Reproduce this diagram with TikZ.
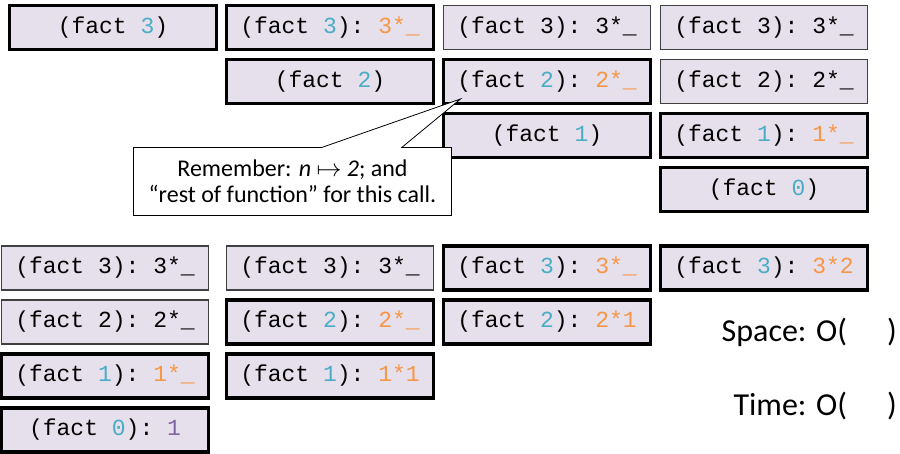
\documentclass[tikz,border=0pt]{standalone}
\usepackage{fontspec}
\setmainfont{Carlito}
\setmonofont{Liberation Mono}
\usetikzlibrary{positioning,shapes.callouts}
\definecolor{framefill}{HTML}{E6E0EC}
\definecolor{argblue}{HTML}{4BACC6}
\definecolor{restorange}{HTML}{F79646}
\definecolor{valpurple}{HTML}{8064A2}
\definecolor{oldgray}{HTML}{404040}
\newcommand{\va}[1]{\textcolor{argblue}{#1}}
\newcommand{\rf}[1]{\textcolor{restorange}{#1}}
\tikzset{
stack/.style={x=1pt,y=-1pt,node distance=10pt},
frame/.style={rectangle,fill=framefill,minimum width=207pt,minimum height=44pt,
inner sep=0pt,outer sep=0pt,font=\fontsize{23}{26}\selectfont\ttfamily},
active/.style={frame,draw=black,line width=3.5pt},
saved/.style={frame,draw=oldgray,line width=1.2pt},
note/.style={rectangle callout,draw,fill=white,line width=0.8pt,
minimum width=318pt,minimum height=68pt,inner sep=2pt,align=center,
font=\fontsize{24}{26}\selectfont,callout pointer width=80pt},
cost/.style={anchor=base east,inner sep=0pt,font=\fontsize{32}{36}\selectfont},
}
\begin{document}
\begin{tikzpicture}[stack]
\useasboundingbox (0,0) rectangle (900,454);
% going down: (fact 3) -> (fact 0)
\node[active] (a1) at (113,27.5) {(fact \va{3})};
\node[active,right=of a1] (b1) {(fact \va{3}): \rf{3*\_}};
\node[saved,right=of b1] (c1) {(fact 3): 3*\_};
\node[saved,right=of c1] (d1) {(fact 3): 3*\_};
\node[active,below=of b1] (b2) {(fact \va{2})};
\node[active,below=of c1] (c2) {(fact \va{2}): \rf{2*\_}};
\node[saved,below=of d1] (d2) {(fact 2): 2*\_};
\node[active,below=of c2] (c3) {(fact \va{1})};
\node[active,below=of d2] (d3) {(fact \va{1}): \rf{1*\_}};
\node[active,below=of d3] (d4) {(fact \va{0})};

% coming back up
\node[saved] (e1) at (105,268) {(fact 3): 3*\_};
\node[saved,right=18pt of e1] (f1) {(fact 3): 3*\_};
\node[active,right=of f1] (g1) {(fact \va{3}): \rf{3*\_}};
\node[active,right=of g1] (h1) {(fact \va{3}): \rf{3*2}};
\node[saved,below=of e1] (e2) {(fact 2): 2*\_};
\node[active,below=of f1] (f2) {(fact \va{2}): \rf{2*\_}};
\node[active,below=of g1] (g2) {(fact \va{2}): \rf{2*1}};
\node[active,below=of e2] (e3) {(fact \va{1}): \rf{1*\_}};
\node[active,below=of f2] (f3) {(fact \va{1}): \rf{1*1}};
\node[active,below=of e3] (e4) {(fact \va{0}):~\textcolor{valpurple}{1}};

\coordinate (tip) at ([xshift=17pt,yshift=4.5pt]c2.south west);
\node[note,callout absolute pointer={(tip)}] (note) at (292.5,181.5)
  {Remember: \textit{n} $\mapsto$ \textit{2}; and\\“rest of function” for this call.};

\node[cost] (space) at (897,342) {Space: O(\hspace{40pt})};
\node[cost] (time) at (897,415) {Time: O(\hspace{40pt})};
\end{tikzpicture}
\end{document}
